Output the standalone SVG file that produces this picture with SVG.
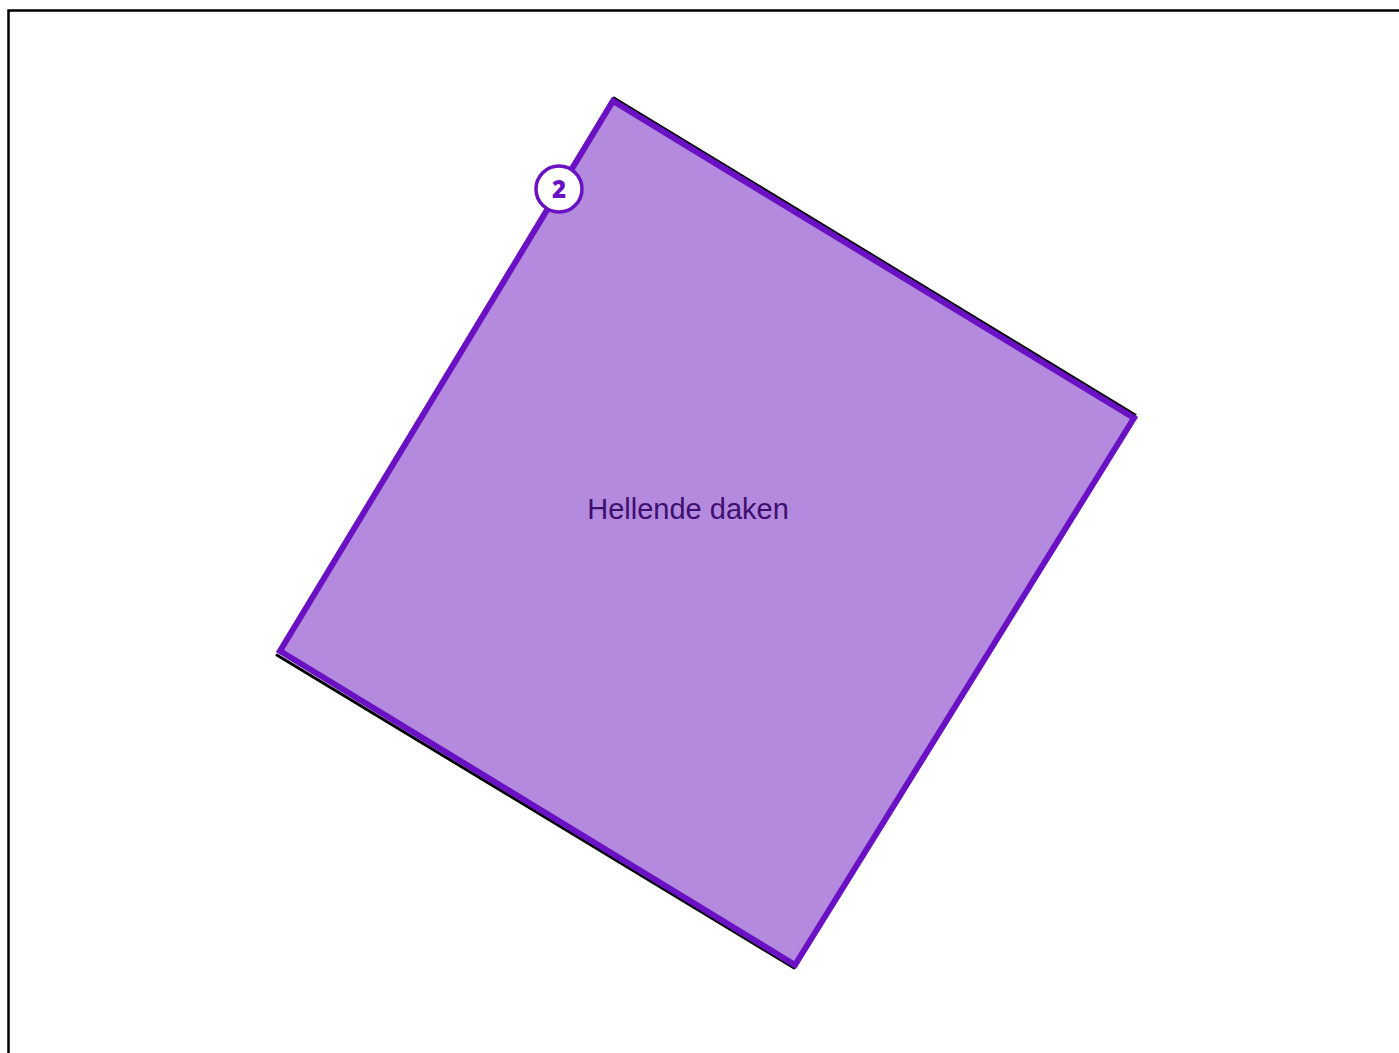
<svg xmlns="http://www.w3.org/2000/svg" width="1399" height="1053" viewBox="0 0 1399 1053">
<style>
.frame{fill:none;stroke:#000;stroke-width:2.5}
.shadow{fill:none;stroke:#000;stroke-width:3;stroke-linecap:butt}
.area{fill:#b48ade;stroke:#6a11c4;stroke-width:6;stroke-linejoin:miter}
.lbl{font-family:"Liberation Sans",Arial,sans-serif;font-size:29px;fill:#3d0f6e;text-anchor:middle}
.badge{fill:#fff;stroke:#6a11c4;stroke-width:3.5}
.badgetxt{font-family:"Open Sans","Liberation Sans",Arial,sans-serif;font-size:24px;font-weight:800;fill:#6a11c4;text-anchor:middle}
</style>
<rect width="1399" height="1053" fill="#fff"/>
<rect class="frame" x="8.5" y="10.5" width="1420" height="1080"/>
<g id="roof">
<line class="shadow" x1="613" y1="97.5" x2="1136" y2="415.5"/>
<line class="shadow" x1="276" y1="654.5" x2="795" y2="968.5"/>
<polygon class="area" points="613,101 1134,418 795,965 280,651"/>
<text class="lbl" x="688" y="519">Hellende daken</text>
</g>
<g id="badge2">
<circle class="badge" cx="559" cy="189" r="23"/>
<text class="badgetxt" x="559" y="197.5">2</text>
</g>
</svg>
